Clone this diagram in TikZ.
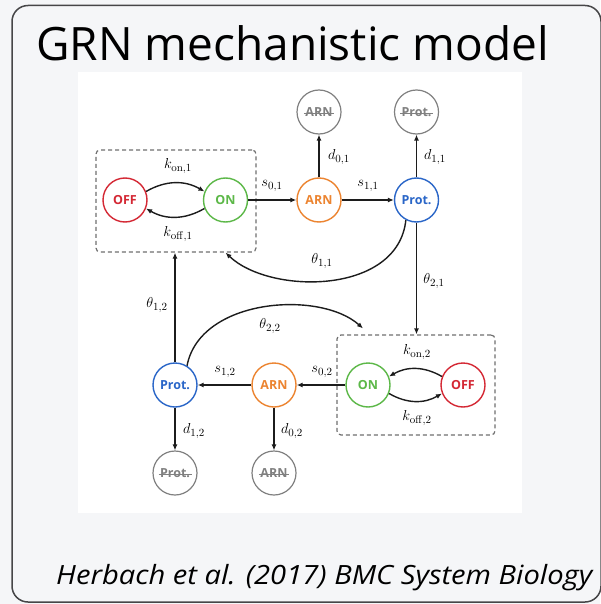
\documentclass[tikz,border=0pt]{standalone}
\usepackage[no-math]{fontspec}
\usetikzlibrary{arrows.meta,calc}
\newfontfamily\osans{Open Sans}
\newfontfamily\osanswide[FakeStretch=1.1]{Open Sans}
\definecolor{cbg}{RGB}{245,246,248}
\definecolor{cframe}{RGB}{70,70,72}
\definecolor{cred}{RGB}{212,40,52}
\definecolor{cgreen}{RGB}{92,184,72}
\definecolor{corange}{RGB}{236,132,48}
\definecolor{cblue}{RGB}{42,102,200}
\definecolor{cdead}{RGB}{128,128,128}
\definecolor{cbox}{RGB}{112,112,112}
\definecolor{cline}{RGB}{28,28,28}
% struck-through label for degraded species
\newcommand\strk[1]{\setbox0\hbox{#1}\rlap{\copy0}\kern-1.5pt\rule[0.33ex]{\dimexpr\wd0+3pt\relax}{0.9pt}\kern-1.5pt}
\begin{document}
\begin{tikzpicture}[x=1pt,y=-1pt,
  st/.style={circle,draw,line width=1.4pt,minimum size=44pt,inner sep=0pt,
    font=\osans\bfseries\fontsize{12.5}{14}\selectfont},
  offst/.style={st,draw=cred,text=cred},
  onst/.style={st,draw=cgreen,text=cgreen},
  arnst/.style={st,draw=corange,text=corange},
  protst/.style={st,draw=cblue,text=cblue},
  deadst/.style={st,draw=cdead,text=cdead,line width=1.2pt},
  lbl/.style={font=\fontsize{15}{17}\selectfont,inner sep=0pt},
  arr/.style={-{Latex[length=6pt,width=5pt]},line width=1.4pt,draw=cline},
  dbox/.style={draw=cbox,line width=1.2pt,dash pattern=on 4pt off 3pt,
    rounded corners=4pt,inner sep=0pt}]
\useasboundingbox (0,0) rectangle (600,604);
% page background and frame
\fill[cbg] (0,0) rectangle (600,604);
\draw[cframe,line width=1.5pt,rounded corners=16pt] (12,5.5) rectangle (601,602);
\fill[white] (78,72) rectangle (522,513);

% title and reference
\node[anchor=base west,inner sep=0pt,font=\osans\fontsize{46}{50}\selectfont] (title) at (36,61) {GRN mechanistic model};
\node[anchor=base west,inner sep=0pt,font=\osanswide\itshape\fontsize{26.5}{30}\selectfont] (ref) at (56,584) {Herbach et al. (2017) BMC System Biology};

% gene 1
\node[dbox,minimum width=160pt,minimum height=102pt] (box1) at (176,201) {};
\node[offst] (off1) at (125,200) {OFF};
\node[onst] (on1) at (225.5,200) {ON};
\node[arnst] (arn1) at (319,200) {ARN};
\node[protst] (prot1) at (416.5,200) {Prot.};
\node[deadst] (darn1) at (319,112) {\strk{ARN}};
\node[deadst] (dprot1) at (416.5,112) {\strk{Prot.}};

% gene 2
\node[dbox,minimum width=158pt,minimum height=100pt] (box2) at (416,385) {};
\node[onst] (on2) at (368,385) {ON};
\node[offst] (off2) at (463,385) {OFF};
\node[arnst] (arn2) at (274,385) {ARN};
\node[protst] (prot2) at (175,385) {Prot.};
\node[deadst] (darn2) at (274,473) {\strk{ARN}};
\node[deadst] (dprot2) at (175,473) {\strk{Prot.}};

% promoter switching
\draw[arr] (off1.22) to[bend left=30] (on1.158);
\draw[arr] (on1.-158) to[bend left=30] (off1.-22);
\draw[arr] (off2.158) to[bend right=30] (on2.22);
\draw[arr] (on2.-22) to[bend right=30] (off2.-158);

% transcription, translation, degradation
\draw[arr] (on1) -- (arn1);
\draw[arr] (arn1) -- (prot1);
\draw[arr] (arn1) -- (darn1);
\draw[arr] (prot1) -- (dprot1);
\draw[arr] (on2) -- (arn2);
\draw[arr] (arn2) -- (prot2);
\draw[arr] (arn2) -- (darn2);
\draw[arr] (prot2) -- (dprot2);

% regulations
\draw[arr] (prot1.-118) .. controls (398,295) and (270,295) .. (box1.south -| on1);
\draw[arr] (prot1.south) -- (prot1.south |- box2.north);
\draw[arr] (prot2.north) -- (prot2.north |- box1.south);
\draw[arr] (prot2.58) .. controls (200,298) and (320,290) .. ($(box2.north -| on2)+(-5,-6)$);

% rate labels
\node[lbl] (lkon1) at (178,166) {$k_{\mathrm{on},1}$};
\node[lbl] (lkoff1) at (178,234) {$k_{\mathrm{off},1}$};
\node[lbl] (ls01) at (272,186) {$s_{0,1}$};
\node[lbl] (ls11) at (368,186) {$s_{1,1}$};
\node[lbl] (ld01) at (339,157) {$d_{0,1}$};
\node[lbl] (ld11) at (435,157) {$d_{1,1}$};
\node[lbl] (lt11) at (322,261) {$\theta_{1,1}$};
\node[lbl] (lt21) at (434,281) {$\theta_{2,1}$};
\node[lbl] (lt12) at (157,305) {$\theta_{1,2}$};
\node[lbl] (lt22) at (270,326) {$\theta_{2,2}$};
\node[lbl] (ls12) at (225,372) {$s_{1,2}$};
\node[lbl] (ls02) at (322,372) {$s_{0,2}$};
\node[lbl] (lkon2) at (417,352) {$k_{\mathrm{on},2}$};
\node[lbl] (lkoff2) at (417,418) {$k_{\mathrm{off},2}$};
\node[lbl] (ld12) at (194,431) {$d_{1,2}$};
\node[lbl] (ld02) at (292,431) {$d_{0,2}$};
\end{tikzpicture}
\end{document}
